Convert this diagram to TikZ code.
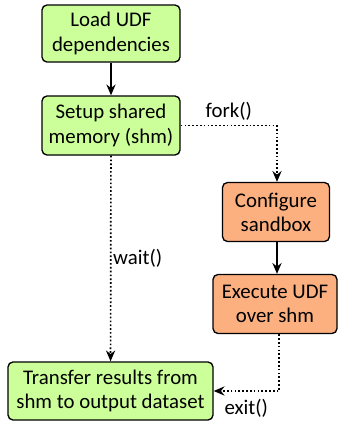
\documentclass[tikz,border=0pt]{standalone}
\usepackage{fontspec}
\setmainfont{Carlito}
\usetikzlibrary{arrows.meta}
\definecolor{boxgreen}{RGB}{204,255,153}
\definecolor{boxorange}{RGB}{252,176,128}
\tikzset{
  box/.style={draw, line width=0.8pt, rounded corners=3pt, align=center, inner sep=2pt, font=\fontsize{12.5}{14.5}\selectfont},
  gbox/.style={box, fill=boxgreen},
  obox/.style={box, fill=boxorange},
  solidarrow/.style={line width=0.8pt, -{Stealth[length=6.5pt,width=5.5pt]}},
  dotarrow/.style={line width=1pt, dash pattern=on 1pt off 1.3pt, -{Stealth[length=6.5pt,width=5.5pt]}},
  lbl/.style={font=\fontsize{12.5}{14.5}\selectfont},
}
\begin{document}
\begin{tikzpicture}[x=0.6pt,y=-0.6pt]
\useasboundingbox (0,0) rectangle (338,426);
\node[gbox, minimum width=138*0.6pt, minimum height=57*0.6pt] (load) at (111,33.5) {Load UDF\\dependencies};
\node[gbox, minimum width=138*0.6pt, minimum height=59*0.6pt] (setup) at (111,125.5) {Setup shared\\memory (shm)};
\node[obox, minimum width=107*0.6pt, minimum height=59*0.6pt] (config) at (276,212) {Configure\\sandbox};
\node[obox, minimum width=124*0.6pt, minimum height=59*0.6pt] (exec) at (275,304) {Execute UDF\\over shm};
\node[gbox, minimum width=205*0.6pt, minimum height=58*0.6pt] (transfer) at (110.5,391) {Transfer results from\\shm to output dataset};
\draw[solidarrow] (load) -- (setup);
\draw[solidarrow] (config.south -| 277,0) -- (exec.north -| 277,0);
\draw[dotarrow] (setup) -- node[lbl, right, inner sep=1pt, pos=0.5] (waitl) {wait()} (transfer);
\draw[dotarrow] (setup.east) -| node[lbl, pos=0.25, above=-1pt] (forkl) {fork()} (config.north -| 277,0);
\draw[dotarrow] (exec.south -| 279,0) |- node[lbl, pos=0.75, below=1pt] (exitl) {exit()} (transfer.east);
\end{tikzpicture}
\end{document}
